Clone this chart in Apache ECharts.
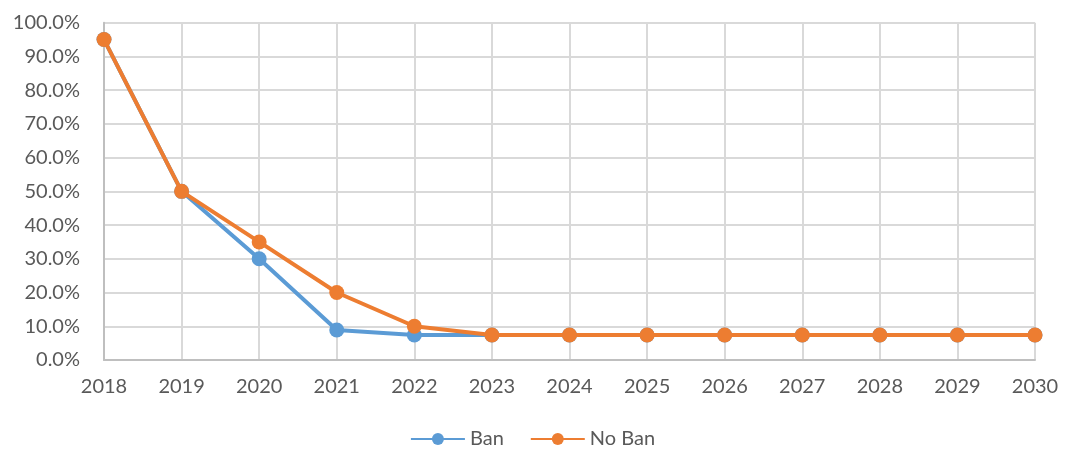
<!DOCTYPE html>
<html><head><meta charset="utf-8">
<script src="https://cdn.jsdelivr.net/npm/echarts@6/dist/echarts.min.js"></script>
<style>html,body{margin:0;padding:0;background:#fff}#c{width:1065px;height:455px}</style>
</head><body><div id="c"></div>
<script>
const categories = ['2018','2019','2020','2021','2022','2023','2024','2025','2026','2027','2028','2029','2030'];
const banValues = [0.95, 0.50, 0.30, 0.089, 0.074, 0.074, 0.074, 0.074, 0.074, 0.074, 0.074, 0.074, 0.074];
const noBanValues = [0.95, 0.50, 0.35, 0.20, 0.10, 0.074, 0.074, 0.074, 0.074, 0.074, 0.074, 0.074, 0.074];
const seriesNames = ['Ban', 'No Ban'];

const chart = echarts.init(document.getElementById('c'), null, {renderer: 'canvas'});
const font = 'Lato, "Open Sans", sans-serif';
function mk(name, data, color) {
  return {
    name, type: 'line', data,
    symbol: 'circle', symbolSize: 15,
    lineStyle: {width: 4, color},
    itemStyle: {color},
    z: name === 'Ban' ? 2 : 3
  };
}
chart.setOption({
  animation: false,
  grid: {left: 104, right: 30, top: 22.7, bottom: 95, containLabel: false},
  legend: {
    bottom: 1, left: 'center',
    itemWidth: 54, itemHeight: 15, itemGap: 26,
    textStyle: {fontFamily: font, fontSize: 20, color: '#595959'},
    data: seriesNames
  },
  xAxis: {
    type: 'category', data: categories, boundaryGap: false,
    axisLine: {lineStyle: {color: '#bfbfbf', width: 2}},
    axisTick: {show: false},
    splitLine: {show: true, lineStyle: {color: '#d9d9d9', width: 2}},
    axisLabel: {fontFamily: font, fontSize: 20, color: '#595959', margin: 17}
  },
  yAxis: {
    type: 'value', min: 0, max: 1, interval: 0.1,
    axisLine: {show: true, lineStyle: {color: '#bfbfbf', width: 2}},
    axisTick: {show: false},
    splitLine: {lineStyle: {color: '#d9d9d9', width: 2}},
    axisLabel: {fontFamily: font, fontSize: 20, color: '#595959', margin: 24,
      formatter: v => (v * 100).toFixed(1) + '%'}
  },
  series: [mk(seriesNames[0], banValues, '#5b9bd5'), mk(seriesNames[1], noBanValues, '#ed7d31')]
});
</script></body></html>
